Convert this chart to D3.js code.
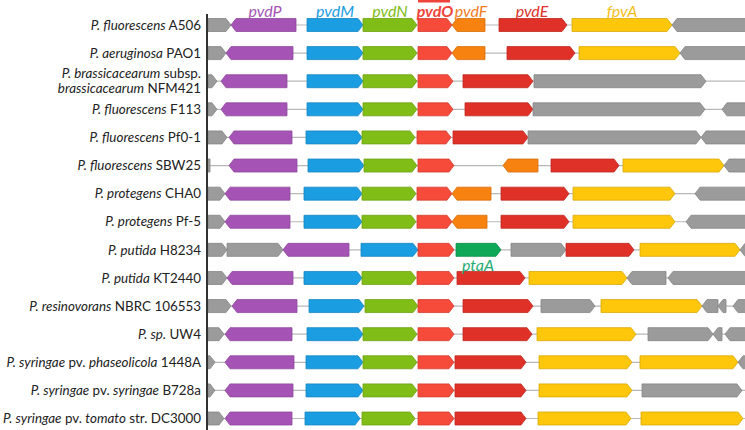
<!DOCTYPE html>
<html><head><meta charset="utf-8">
<script src="https://cdn.jsdelivr.net/npm/d3@7"></script>
<style>body{margin:0;background:#fff}svg{display:block}</style>
</head><body><div id="chart"></div>
<script>
// strain labels: lines of segments [text, italic?]
const strains = [
  [[["P. fluorescens",1],[" A506",0]]],
  [[["P. aeruginosa",1],[" PAO1",0]]],
  [[["P. brassicacearum",1],[" subsp.",0]], [["brassicacearum",1],[" NFM421",0]]],
  [[["P. fluorescens",1],[" F113",0]]],
  [[["P. fluorescens",1],[" Pf0-1",0]]],
  [[["P. fluorescens",1],[" SBW25",0]]],
  [[["P. protegens",1],[" CHA0",0]]],
  [[["P. protegens",1],[" Pf-5",0]]],
  [[["P. putida",1],[" H8234",0]]],
  [[["P. putida",1],[" KT2440",0]]],
  [[["P. resinovorans",1],[" NBRC 106553",0]]],
  [[["P. sp.",1],[" UW4",0]]],
  [[["P. syringae",1],[" pv. ",0],["phaseolicola",1],[" 1448A",0]]],
  [[["P. syringae",1],[" pv. ",0],["syringae",1],[" B728a",0]]],
  [[["P. syringae",1],[" pv. ",0],["tomato",1],[" str. DC3000",0]]]
];
// gene types
const geneTypes = ["grey","pvdP","pvdM","pvdN","pvdO","pvdF","pvdE","fpvA","ptaA"];
const geneColors = ["#9b9b9b","#a553b5","#1b9de2","#80bd17","#f64a3b","#f7820f","#df3128","#fec70b","#0fa858"];
const geneStrokes = ["#858585","#8e4a9c","#1886c2","#6ea214","#d43e31","#d66f0c","#bf2a22","#d9aa0a","#0d8f4b"];
// header labels: [text, position (locus units)]
const headerLabels = [["pvdP",57],["pvdM",127],["pvdN",182],["pvdO",227],["pvdF",263],["pvdE",324],["fpvA",414]];
const headerColors = ["#a553b5","#1b9de2","#80bd17","#f0443a","#f07b1d","#df3128","#f5c01a"];
// genes per strain row: [type, start, end, strand]  (+1 right, -1 left, 0 none)
const rows = [
  [["grey",0,23,1],["pvdP",23,88,-1],["pvdM",99,155,1],["pvdN",155,209,1],["pvdO",210,244,1],["pvdF",244,277,-1],["pvdE",291,359,1],["fpvA",364,464,1],["grey",464,580,-1]],
  [["grey",0,18,1],["pvdP",18,85,-1],["pvdM",99,155,1],["pvdN",155,209,1],["pvdO",210,244,1],["pvdF",244,277,-1],["pvdE",299,367,1],["fpvA",371,472,1],["grey",472,580,-1]],
  [["grey",0,9,1],["pvdP",13,79,-1],["pvdM",99,155,1],["pvdN",155,209,1],["pvdO",210,245,1],["pvdE",255,325,1],["grey",326,498,1]],
  [["grey",0,9,1],["pvdP",13,79,-1],["pvdM",99,155,1],["pvdN",155,209,1],["pvdO",210,245,1],["pvdE",257,325,1],["grey",325,497,1],["grey",514,580,-1]],
  [["grey",0,19,1],["pvdP",21,84,-1],["pvdM",98,154,1],["pvdN",154,207,1],["pvdO",209,243,1],["pvdE",245,320,1],["grey",320,493,1],["grey",493,580,-1]],
  [["grey",0,2,0],["pvdP",21,89,-1],["pvdM",100,156,1],["pvdN",156,209,1],["pvdO",210,246,1],["pvdF",295,330,-1],["pvdE",343,411,1],["fpvA",415,516,1],["grey",516,580,-1]],
  [["grey",0,17,1],["pvdP",17,82,-1],["pvdM",96,154,1],["pvdN",154,208,1],["pvdO",209,244,1],["pvdF",244,283,-1],["pvdE",293,361,1],["fpvA",365,467,1],["grey",487,580,-1]],
  [["grey",0,17,1],["pvdP",17,82,-1],["pvdM",96,154,1],["pvdN",154,208,1],["pvdO",209,244,1],["pvdF",244,279,-1],["pvdE",293,361,1],["fpvA",365,467,1],["grey",478,580,-1]],
  [["grey",0,19,1],["grey",19,75,1],["pvdP",75,141,-1],["pvdM",153,210,1],["pvdO",210,246,1],["ptaA",248,293,1],["grey",303,358,1],["pvdE",358,426,1],["fpvA",432,532,1],["grey",532,580,-1]],
  [["grey",0,19,1],["pvdP",19,85,-1],["pvdM",96,154,1],["pvdN",154,208,1],["pvdO",209,246,1],["pvdE",249,317,1],["fpvA",321,419,1],["grey",419,458,-1],["grey",460,580,-1]],
  [["grey",0,23,1],["pvdP",24,89,-1],["pvdM",101,156,1],["pvdN",157,210,1],["pvdO",210,246,1],["pvdE",255,325,1],["grey",333,387,1],["fpvA",393,494,1],["grey",494,510,-1],["grey",510,518,-1],["grey",525,580,-1]],
  [["grey",0,16,1],["pvdP",17,84,-1],["pvdM",99,155,1],["pvdN",155,209,1],["pvdO",210,246,1],["pvdE",255,324,1],["fpvA",329,428,1],["grey",440,505,1],["grey",505,514,-1],["grey",517,580,-1]],
  [["grey",0,7,1],["pvdP",17,86,-1],["pvdM",98,155,1],["pvdN",155,209,1],["pvdO",210,246,1],["pvdE",247,318,1],["fpvA",331,424,1],["fpvA",432,530,1],["grey",530,580,-1]],
  [["grey",0,7,1],["pvdP",17,85,-1],["pvdM",98,155,1],["pvdN",155,209,1],["pvdO",210,246,1],["pvdE",247,318,1],["fpvA",331,424,1],["grey",434,534,1]],
  [["grey",0,16,1],["pvdP",17,84,-1],["pvdM",97,152,1],["pvdN",154,207,1],["pvdO",210,246,1],["pvdE",247,318,1],["fpvA",330,423,1],["fpvA",433,535,1]]
];
const ptaLabel = ["ptaA", 8, 270]; // text, row index, position

const W = 745, H = 430;
const axisX = 207;
const x = d3.scaleLinear().domain([0, 537]).range([208, 745]);
const y = d3.scalePoint().domain(d3.range(strains.length)).range([25, 418.5]);
const color = d3.scaleOrdinal().domain(geneTypes).range(geneColors);
const stroke = d3.scaleOrdinal().domain(geneTypes).range(geneStrokes);
const hColor = d3.scaleOrdinal().domain(headerLabels.map(d=>d[0])).range(headerColors);

const svg = d3.select("#chart").append("svg").attr("width", W).attr("height", H);
svg.append("defs").append("clipPath").attr("id","clip")
  .append("rect").attr("x", axisX).attr("y", 0).attr("width", W - axisX).attr("height", H);

const AH = 13, TIP = 5;
function arrowPath(g, cy) {
  const [type, s, e, dir] = g;
  const x0 = x(s), x1 = x(e);
  const top = cy - AH/2, bot = cy + AH/2;
  const tip = Math.min(TIP, (x1 - x0));
  if (dir === 1) return `M${x0},${top}L${x1-tip},${top}L${x1},${cy}L${x1-tip},${bot}L${x0},${bot}Z`;
  if (dir === -1) return `M${x1},${top}L${x0+tip},${top}L${x0},${cy}L${x0+tip},${bot}L${x1},${bot}Z`;
  return `M${x0},${top}L${x1},${top}L${x1},${bot}L${x0},${bot}Z`;
}

const plot = svg.append("g").attr("clip-path","url(#clip)");
const rowG = plot.selectAll("g.row").data(rows).join("g").attr("class","row");
rowG.append("line")
  .attr("x1", x(0)).attr("x2", W)
  .attr("y1", (d,i)=>y(i)).attr("y2", (d,i)=>y(i))
  .attr("stroke", "#b8b8b8").attr("stroke-width", 1.2);
rowG.each(function(genes, i){
  d3.select(this).selectAll("path").data(genes).join("path")
    .attr("d", g => arrowPath(g, y(i)))
    .attr("fill", g => color(g[0]))
    .attr("stroke", g => stroke(g[0]))
    .attr("stroke-width", 0.8)
    .attr("stroke-linejoin","miter");
});

// vertical axis line
svg.append("line").attr("x1", axisX).attr("x2", axisX).attr("y1", 14).attr("y2", H)
  .attr("stroke", "#333").attr("stroke-width", 2);

// strain labels
const font = "Lato, 'Open Sans', sans-serif";
strains.forEach((lines, i) => {
  const n = lines.length;
  lines.forEach((segs, j) => {
    const cy = y(i) + (j - (n-1)/2) * 15;
    const t = svg.append("text").attr("x", 201).attr("y", cy).attr("dy","0.35em")
      .attr("text-anchor","end").attr("font-family", font).attr("font-size", 13.4).attr("fill","#222");
    t.selectAll("tspan").data(segs).join("tspan")
      .attr("font-style", d => d[1] ? "italic" : "normal")
      .text(d => d[0]);
  });
});

// header labels
svg.append("g").selectAll("text").data(headerLabels).join("text")
  .attr("x", d => x(d[1])).attr("y", 11).attr("dy","0.35em")
  .attr("text-anchor","middle").attr("font-family", font).attr("font-size", 16)
  .attr("font-style","italic").attr("font-weight", d => d[0]==="pvdO" ? "bold" : "normal")
  .attr("fill", d => hColor(d[0])).text(d => d[0]);
// bar above pvdO
svg.append("rect").attr("x", x(210)).attr("width", x(242)-x(210)).attr("y", 0).attr("height", 2.5).attr("fill", "#f0443a");

// ptaA label
svg.append("text").attr("x", x(ptaLabel[2])).attr("y", y(ptaLabel[1]) + 16).attr("dy","0.35em")
  .attr("text-anchor","middle").attr("font-family", font).attr("font-size", 16)
  .attr("font-style","italic").attr("fill","#1faa74").text(ptaLabel[0]);
</script></body></html>
